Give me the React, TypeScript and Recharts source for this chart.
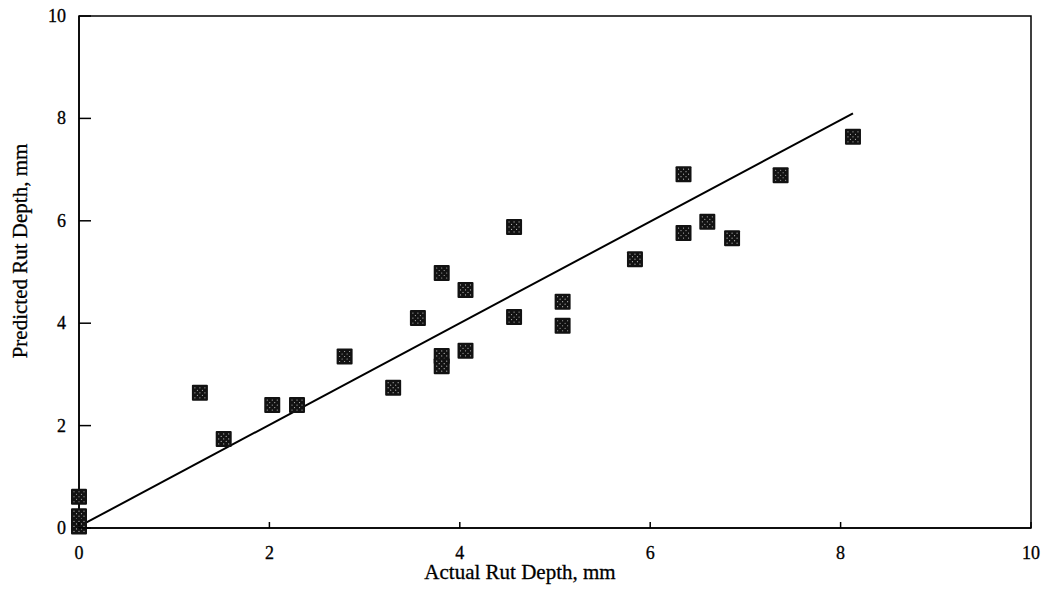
import React from 'react';
import {
  ScatterChart,
  Scatter,
  XAxis,
  YAxis,
  ReferenceArea,
  Label,
} from 'recharts';

// measured rut depth (mm) vs. model prediction (mm)
const actualDepth = [
  0, 0, 0, 1.27, 1.52, 2.03, 2.29, 2.79, 3.3, 3.56, 3.81, 3.81, 3.81, 4.06, 4.06,
  4.57, 4.57, 5.08, 5.08, 5.84, 6.35, 6.35, 6.6, 6.86, 7.37, 8.13,
];
const predictedDepth = [
  0.61, 0.23, 0.03, 2.64, 1.74, 2.4, 2.4, 3.35, 2.74, 4.1, 3.36, 3.16, 4.98, 4.65, 3.46,
  4.12, 5.88, 4.42, 3.95, 5.25, 6.91, 5.76, 5.98, 5.66, 6.89, 7.64,
];

// fitted trend line endpoints
const fitX = [0, 8.13];
const fitY = [0.03, 8.1];

const ticks = [0, 2, 4, 6, 8, 10];

const points = actualDepth.map((x, i) => ({ x, y: predictedDepth[i] }));
const fitLine = fitX.map((x, i) => ({ x, y: fitY[i] }));

const FONT = '"Liberation Serif", "Times New Roman", serif';

// dark square with a light stipple, like the printed marker
const SquareMarker = (props: any) => {
  const { cx, cy } = props;
  if (cx == null || cy == null) return null;
  const s = 16;
  const x0 = cx - s / 2;
  const y0 = cy - s / 2;
  const dots: React.ReactNode[] = [];
  for (let r = 0; r < 5; r++) {
    for (let c = 0; c < 5; c++) {
      if ((r + c) % 2 === 0) {
        dots.push(
          <circle key={`${r}-${c}`} cx={x0 + 3 + c * 2.5} cy={y0 + 3 + r * 2.5} r={0.6} fill="#b8b8b8" />
        );
      }
    }
  }
  return (
    <g>
      <rect x={x0} y={y0} width={s} height={s} rx={1} fill="#121212" />
      {dots}
    </g>
  );
};

const XTick = (props: any) => {
  const { x, y, payload } = props;
  return (
    <g>
      <line x1={x} y1={y} x2={x} y2={y - 6} stroke="#000" strokeWidth={1.5} />
      <text x={x} y={y + 31} textAnchor="middle" fontFamily={FONT} fontSize={18} fill="#000" stroke="#000" strokeWidth={0.3}>
        {payload.value}
      </text>
    </g>
  );
};

const YTick = (props: any) => {
  const { x, y, payload } = props;
  return (
    <g>
      <line x1={x} y1={y} x2={x + 12} y2={y} stroke="#000" strokeWidth={1.5} />
      <text x={x - 13} y={y + 6} textAnchor="end" fontFamily={FONT} fontSize={18} fill="#000" stroke="#000" strokeWidth={0.3}>
        {payload.value}
      </text>
    </g>
  );
};

export default function App() {
  return (
    <div style={{ position: 'fixed', left: 0, top: 0, width: 1044, height: 595, background: '#fff' }}>
      <ScatterChart width={1044} height={595} margin={{ top: 16, right: 13, bottom: 0, left: 0 }}>
        <XAxis
          type="number"
          dataKey="x"
          domain={[0, 10]}
          ticks={ticks}
          height={67}
          tickSize={0}
          tickMargin={0}
          tickLine={false}
          axisLine={{ stroke: '#000', strokeWidth: 1.5 }}
          tick={<XTick />}
          interval={0}
        >
          <Label
            content={({ viewBox }: any) => (
              <text
                x={viewBox.x + viewBox.width / 2 - 35}
                y={viewBox.y + 51}
                textAnchor="middle"
                fontFamily={FONT}
                fontSize={21}
                fill="#000"
                stroke="#000"
                strokeWidth={0.3}
              >
                Actual Rut Depth, mm
              </text>
            )}
          />
        </XAxis>
        <YAxis
          type="number"
          dataKey="y"
          domain={[0, 10]}
          ticks={ticks}
          width={79}
          tickSize={0}
          tickMargin={0}
          tickLine={false}
          axisLine={{ stroke: '#000', strokeWidth: 1.5 }}
          tick={<YTick />}
          interval={0}
        >
          <Label
            content={({ viewBox }: any) => {
              const cx = 27;
              const cy = viewBox.y + viewBox.height / 2 - 21;
              return (
                <text
                  x={cx}
                  y={cy}
                  transform={`rotate(-90, ${cx}, ${cy})`}
                  textAnchor="middle"
                  fontFamily={FONT}
                  fontSize={21}
                  fill="#000"
                  stroke="#000"
                  strokeWidth={0.3}
                >
                  Predicted Rut Depth, mm
                </text>
              );
            }}
          />
        </YAxis>
        <ReferenceArea x1={0} x2={10} y1={0} y2={10} fill="none" stroke="#000" strokeWidth={1.5} />
        <Scatter
          data={fitLine}
          line={{ stroke: '#000', strokeWidth: 2 }}
          shape={() => null}
          isAnimationActive={false}
        />
        <Scatter data={points} shape={<SquareMarker />} isAnimationActive={false} />
      </ScatterChart>
    </div>
  );
}
